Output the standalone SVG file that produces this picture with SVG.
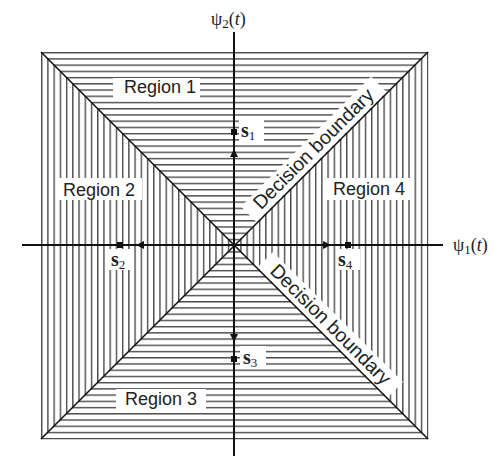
<svg xmlns="http://www.w3.org/2000/svg" width="498" height="456" viewBox="0 0 498 456">
<style>
.lbl{font-family:"Liberation Sans",Arial,sans-serif;font-size:18px;fill:#222}
.db{font-family:"Liberation Sans",Arial,sans-serif;font-size:19.5px;fill:#222}
.sym{font-family:"Liberation Serif","Times New Roman",serif;font-weight:bold;font-size:20px;fill:#222}
.sub{font-size:13px;font-weight:normal}
.ax{font-family:"Liberation Serif","Times New Roman",serif;font-size:18px;fill:#222}
.ko{fill:#fff}
.axis{stroke:#111;stroke-width:2;fill:none}
.diag{stroke:#111;stroke-width:1.6;fill:none}
</style>
<defs>
<pattern id="hh" patternUnits="userSpaceOnUse" x="0" y="52" width="10" height="6.226">
<rect x="0" y="0" width="10" height="1.4" fill="#4a4a4a"/>
</pattern>
<pattern id="vv" patternUnits="userSpaceOnUse" x="41" y="0" width="6.226" height="10">
<rect x="0" y="0" width="1.4" height="10" fill="#4a4a4a"/>
</pattern>
<marker id="ah" viewBox="0 0 10 10" refX="10" refY="5" markerWidth="10" markerHeight="8" markerUnits="userSpaceOnUse" orient="auto">
<path d="M0,0 L10,5 L0,10 Z" fill="#111"/>
</marker>
</defs>
<rect width="498" height="456" fill="#fff"/>
<g id="hatching">
<polygon points="41,52 428.4,52 234,245" fill="url(#hh)"/>
<polygon points="41,439.4 428.4,439.4 234,245" fill="url(#hh)"/>
<polygon points="41,52 41,439.4 234,245" fill="url(#vv)"/>
<polygon points="428.4,52 428.4,439.4 234,245" fill="url(#vv)"/>
</g>
<g id="region1"><rect class="ko" x="113" y="78" width="87" height="20"/><text class="lbl" x="160" y="93" text-anchor="middle">Region 1</text></g>
<g id="region2"><rect class="ko" x="57" y="178" width="85" height="22"/><text class="lbl" x="99" y="196" text-anchor="middle">Region 2</text></g>
<g id="region4"><rect class="ko" x="327" y="178" width="85" height="22"/><text class="lbl" x="369" y="195" text-anchor="middle">Region 4</text></g>
<g id="region3"><rect class="ko" x="116" y="389" width="90" height="21"/><text class="lbl" x="161" y="405" text-anchor="middle">Region 3</text></g>
<g id="boundary1" transform="translate(318,153.5) rotate(-45)"><rect class="ko" x="-92" y="-17" width="184" height="22"/><text class="db" x="0" y="0" text-anchor="middle">Decision boundary</text></g>
<g id="boundary2" transform="translate(326,329) rotate(45)"><rect class="ko" x="-92" y="-17" width="184" height="22"/><text class="db" x="0" y="0" text-anchor="middle">Decision boundary</text></g>
<g id="connectors">
<line class="diag" x1="41" y1="52" x2="428" y2="439"/>
<line class="diag" x1="428" y1="52" x2="41" y2="439"/>
<line class="axis" x1="234" y1="32" x2="234" y2="456"/>
<line class="axis" x1="22" y1="245" x2="443" y2="245"/>
<line class="axis" x1="234" y1="245" x2="234" y2="149" marker-end="url(#ah)"/>
<line class="axis" x1="234" y1="245" x2="234" y2="342" marker-end="url(#ah)"/>
<line class="axis" x1="234" y1="245" x2="136" y2="245" marker-end="url(#ah)"/>
<line class="axis" x1="234" y1="245" x2="331" y2="245" marker-end="url(#ah)"/>
</g>
<g id="s1"><rect class="ko" x="239" y="120" width="25" height="22"/><rect x="231" y="129" width="6" height="6" fill="#111"/><text class="sym" x="241" y="137">s<tspan class="sub" dy="3">1</tspan></text></g>
<g id="s2"><rect class="ko" x="108" y="249" width="26" height="21"/><rect x="117" y="242" width="6" height="6" fill="#111"/><text class="sym" x="111" y="266">s<tspan class="sub" dy="3">2</tspan></text></g>
<g id="s3"><rect class="ko" x="240" y="346" width="26" height="22"/><rect x="231" y="356" width="6" height="6" fill="#111"/><text class="sym" x="243" y="364">s<tspan class="sub" dy="3">3</tspan></text></g>
<g id="s4"><rect class="ko" x="337" y="249" width="23" height="21"/><rect x="345" y="242" width="6" height="6" fill="#111"/><text class="sym" x="338" y="266">s<tspan class="sub" dy="3">4</tspan></text></g>
<g id="psi2"><text class="ax" x="211" y="25">ψ<tspan font-size="13" dy="3">2</tspan><tspan dy="-3">(</tspan><tspan font-style="italic">t</tspan>)</text></g>
<g id="psi1"><text class="ax" x="453" y="251">ψ<tspan font-size="13" dy="3">1</tspan><tspan dy="-3">(</tspan><tspan font-style="italic">t</tspan>)</text></g>
</svg>
